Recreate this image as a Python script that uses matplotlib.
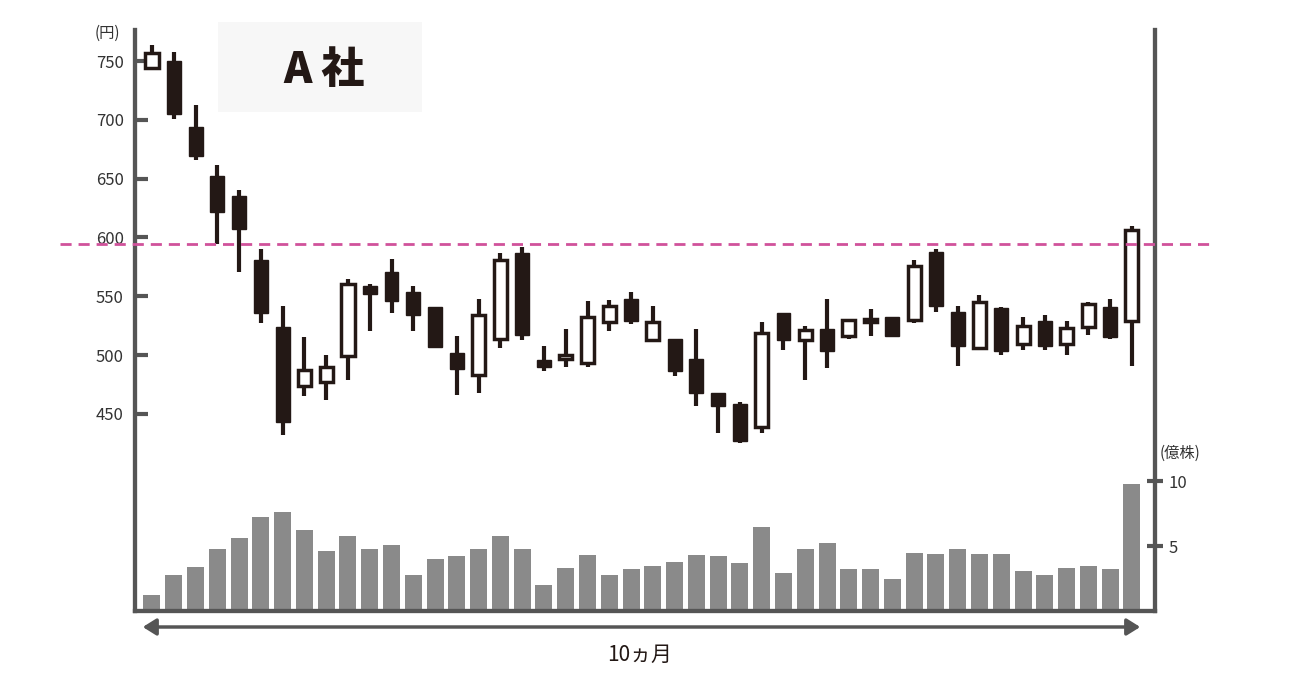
import matplotlib
matplotlib.use("Agg")
import matplotlib.pyplot as plt
from matplotlib.patches import Rectangle, FancyArrowPatch

plt.rcParams['font.family'] = ['Noto Sans CJK JP', 'DejaVu Sans']

opens  = [744,750,694,652,635,581,524,474,477,499,559,571,554,541,502,483,514,587,496,497,493,528,548,513,514,497,468,458,439,536,513,522,516,528,532,530,588,537,506,540,509,529,509,524,541,529]
closes = [757,705,669,622,607,536,443,487,490,560,552,546,534,507,488,534,581,517,490,500,532,542,529,528,486,468,457,427,519,513,521,503,530,531,516,576,542,508,545,503,525,508,523,543,515,606]
highs  = [764,758,713,662,640,590,542,515,500,565,560,582,559,541,516,548,587,592,508,522,546,547,554,542,514,522,468,460,528,536,525,548,530,539,532,581,590,542,551,541,532,534,529,545,548,610]
lows   = [742,701,666,594,571,527,432,465,462,479,520,536,520,506,466,468,506,513,486,490,490,520,526,512,482,457,434,425,434,504,479,489,514,516,516,527,537,491,505,500,504,504,500,517,514,491]
volume = [1.2,2.8,3.4,4.8,5.6,7.2,7.6,6.2,4.6,5.8,4.8,5.1,2.8,4.0,4.2,4.8,5.8,4.8,2.0,3.3,4.3,2.8,3.2,3.5,3.8,4.3,4.2,3.7,6.5,2.9,4.8,5.2,3.2,3.2,2.5,4.5,4.4,4.8,4.4,4.4,3.1,2.8,3.3,3.5,3.2,9.8]
price_ticks = [450,500,550,600,650,700,750]
vol_ticks = [5,10]
line_level = 594

W, H = 1300, 683
fig = plt.figure(figsize=(13, 6.83), dpi=100)
ax = fig.add_axes([135/W, 1-611/H, 1020/W, 581/H])
ax.set_xlim(-0.78, 46.06)
ax.set_ylim(282.3, 776.4)
gray = '#555555'

for i,(o,c,h,l) in enumerate(zip(opens,closes,highs,lows)):
    lo, hi = min(o,c), max(o,c)
    ax.plot([i,i],[l,h], color='#231815', lw=3, solid_capstyle='butt', zorder=2)
    if c >= o:
        ax.add_patch(Rectangle((i-0.3, lo), 0.6, max(hi-lo,1.5), facecolor='white', edgecolor='#231815', lw=2.5, zorder=3))
    else:
        ax.add_patch(Rectangle((i-0.32, lo), 0.64, max(hi-lo,1.5), facecolor='#231815', edgecolor='#231815', lw=1, zorder=3))

ax.axhline(line_level, xmin=-0.0735, xmax=1.059, color='#d0529b', ls=(0,(4,2.5)), lw=2, clip_on=False, zorder=4)

vax = ax.twinx()
vax.set_ylim(0, 44.7)
vax.bar(range(len(volume)), volume, width=0.78, color='#8a8a8a', zorder=1)
vax.set_yticks(vol_ticks)
vax.set_yticklabels([str(v) for v in vol_ticks], fontsize=12, color='#333333')
vax.tick_params(axis='y', direction='inout', length=12, width=3, color=gray, pad=4)
ax.set_zorder(vax.get_zorder()+1); ax.patch.set_visible(False)

ax.set_yticks(price_ticks)
ax.set_yticklabels([str(v) for v in price_ticks], fontsize=12, color='#333333')
ax.tick_params(axis='y', direction='in', length=9, width=3, color=gray, pad=8)
ax.set_xticks([])
for a in (ax, vax):
    a.spines['top'].set_visible(False)
    for s in ('left','right','bottom'):
        a.spines[s].set_color(gray); a.spines[s].set_linewidth(3)
fig.text(95/W, 1-33/H, '(円)', fontsize=11, color='#333333', va='center')
fig.text(1160/W, 1-453/H, '(億株)', fontsize=11, color='#333333', va='center')

fig.patches.append(Rectangle((218/W, 1-112/H), 204/W, 90/H, transform=fig.transFigure, facecolor='#f7f7f7', edgecolor='none'))
fig.text(324/W, 1-70/H, 'A 社', fontsize=31, fontweight='black', ha='center', va='center', color='#231815')

arr = FancyArrowPatch((140/W, 1-627/H), (1143/W, 1-627/H), transform=fig.transFigure,
                      arrowstyle='<|-|>,head_length=8,head_width=5', color=gray, lw=2.5)
fig.patches.append(arr)
fig.text(640/W, 1-655/H, '10ヵ月', fontsize=15, ha='center', va='center', color='#231815')

fig.savefig('out.png', dpi=100)
